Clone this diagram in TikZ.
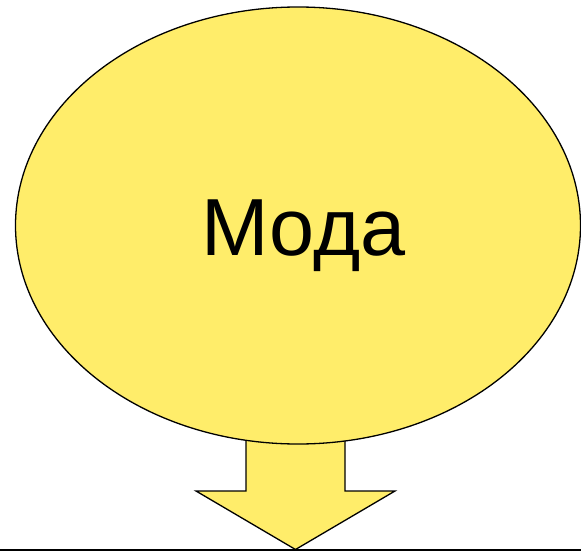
\documentclass[tikz,border=0pt]{standalone}
\usepackage{fontspec}
\usetikzlibrary{shapes.geometric}
\setmainfont{Liberation Sans}
\definecolor{fillyellow}{HTML}{FFED6A}
\definecolor{baseline}{HTML}{505050}
\begin{document}
\begin{tikzpicture}[x=1pt,y=-1pt,
  shapeline/.style={draw=black,line width=1.3pt,fill=fillyellow,line join=miter}]
\useasboundingbox (0,0) rectangle (581,551);
% arrow
\draw[shapeline] (246,380) -- (345,380) -- (345,491) -- (395,491) -- (295.5,549.5) -- (196,491) -- (246,491) -- cycle;
% ellipse
\node[shapeline,ellipse,minimum width=565pt,minimum height=437pt,inner sep=0pt] (moda) at (298,225.5) {};
\node[font=\fontsize{81}{96}\selectfont,inner sep=0pt,anchor=base] (label) at (303.5,255) {Мода};
% bottom rule
\coordinate (bl) at (0,550);
\coordinate (br) at (581,550);
\draw[baseline,line width=1.2pt] (bl) -- (br);
\end{tikzpicture}
\end{document}
